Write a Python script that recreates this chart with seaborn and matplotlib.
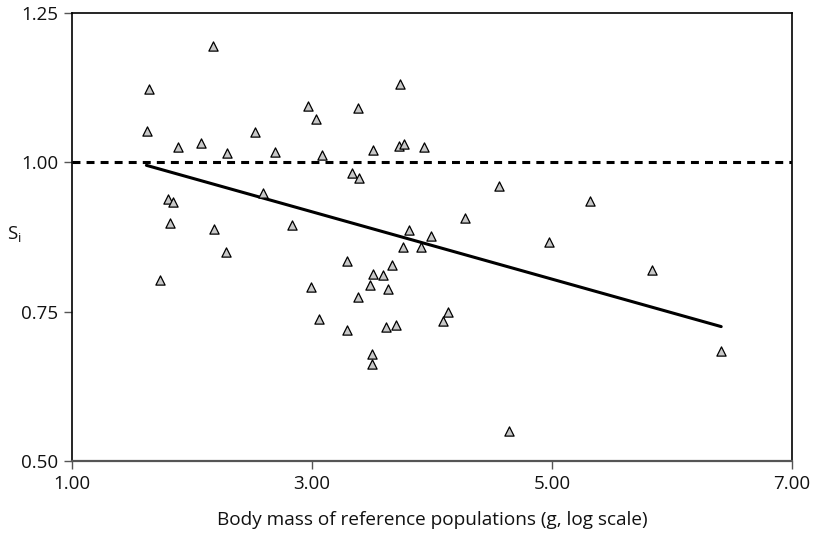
import matplotlib
matplotlib.use("Agg")
import matplotlib.pyplot as plt
import seaborn as sns
import pandas as pd
from matplotlib.ticker import FormatStrFormatter

body_mass = [2.176, 1.639, 1.628, 1.882, 2.071, 2.289, 2.527, 2.690, 2.967, 3.036,
             3.086, 3.384, 3.509, 3.335, 3.390, 1.802, 1.841, 2.588, 1.813, 2.187,
             2.837, 2.286, 1.733, 3.288, 2.989, 3.736, 3.725, 3.766, 3.935, 4.560,
             5.315, 4.275, 3.808, 3.990, 3.758, 3.907, 4.972, 3.664, 3.506, 3.589,
             3.487, 3.637, 3.384, 3.058, 3.290, 3.614, 3.700, 4.137, 4.092, 3.498,
             3.500, 4.640, 5.835, 6.411]
s_i = [1.194, 1.122, 1.053, 1.026, 1.033, 1.016, 1.050, 1.017, 1.094, 1.073,
       1.013, 1.091, 1.021, 0.982, 0.974, 0.938, 0.934, 0.948, 0.899, 0.888,
       0.895, 0.850, 0.803, 0.835, 0.792, 1.131, 1.028, 1.031, 1.026, 0.961,
       0.936, 0.907, 0.886, 0.876, 0.858, 0.858, 0.866, 0.828, 0.813, 0.812,
       0.795, 0.788, 0.774, 0.738, 0.720, 0.724, 0.727, 0.749, 0.734, 0.679,
       0.663, 0.550, 0.819, 0.684]
fit_x = [1.62, 6.41]
fit_y = [0.995, 0.725]
ref_x = [1.0, 7.0]
ref_y = [1.0, 1.0]
x_ticks = [1.0, 3.0, 5.0, 7.0]
y_ticks = [0.50, 0.75, 1.00, 1.25]

sns.set_theme(style="ticks")
plt.rcParams['font.family'] = ['Open Sans', 'DejaVu Sans']

fig = plt.figure(figsize=(8.13, 5.36), dpi=100)
ax = fig.add_axes([72/813, 1-461/536, (792-72)/813, (461-13)/536])

df = pd.DataFrame({"x": body_mass, "y": s_i})
sns.lineplot(x=ref_x, y=ref_y, ax=ax, color="black", lw=2.2,
             linestyle=(0, (2.6, 2.0)))
sns.lineplot(x=fit_x, y=fit_y, ax=ax, color="black", lw=2.2)
sns.scatterplot(data=df, x="x", y="y", ax=ax, marker="^", s=44,
                color="#c8c8c8", edgecolor="black", linewidth=0.9, zorder=3)

ax.set_xlim(1.0, 7.0)
ax.set_ylim(0.5, 1.25)
ax.set_xticks(x_ticks)
ax.set_yticks(y_ticks)
ax.xaxis.set_major_formatter(FormatStrFormatter('%.2f'))
ax.yaxis.set_major_formatter(FormatStrFormatter('%.2f'))
for name, sp in ax.spines.items():
    sp.set_visible(True)
    sp.set_linewidth(1.2)
    sp.set_color("black")
ax.spines['bottom'].set_color("#555555")
ax.spines['bottom'].set_linewidth(1.6)
ax.tick_params(axis='both', length=6, width=1.0, color="#555555",
               labelsize=13.5, pad=4, labelcolor="#111111")
ax.set_xlabel("Body mass of reference populations (g, log scale)",
              fontsize=13.7, labelpad=13, color="#111111")
ax.set_ylabel("")
fig.text(7/813, 1-235/536, r"S$_\mathregular{i}$", fontsize=13.5,
         ha="left", va="center", color="#111111")

fig.savefig("out.png", dpi=100)
